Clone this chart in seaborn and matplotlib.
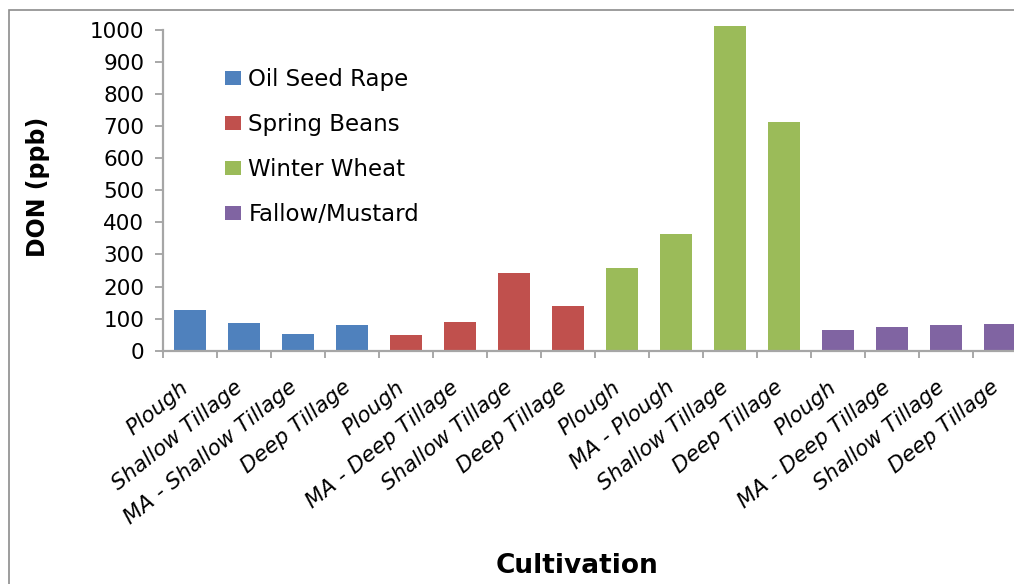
import matplotlib
matplotlib.use("Agg")
import matplotlib.pyplot as plt
import matplotlib.transforms as mtransforms
import seaborn as sns
import pandas as pd
from matplotlib.patches import Rectangle

# Cultivation treatments (left to right) and their crop groups
cultivation = [
    "Plough", "Shallow Tillage", "MA - Shallow Tillage", "Deep Tillage",
    "Plough", "MA - Deep Tillage", "Shallow Tillage", "Deep Tillage",
    "Plough", "MA - Plough", "Shallow Tillage", "Deep Tillage",
    "Plough", "MA - Deep Tillage", "Shallow Tillage", "Deep Tillage",
]
crop = (["Oil Seed Rape"] * 4 + ["Spring Beans"] * 4 +
        ["Winter Wheat"] * 4 + ["Fallow/Mustard"] * 4)
don_ppb = [127, 86, 52, 80,
           49, 89, 242, 139,
           258, 364, 1012, 713,
           64, 74, 80, 83]

crop_order = ["Oil Seed Rape", "Spring Beans", "Winter Wheat", "Fallow/Mustard"]
crop_colors = ["#4F81BD", "#C0504D", "#9BBB59", "#8064A2"]

df = pd.DataFrame({
    "slot": [str(i) for i in range(len(cultivation))],
    "Crop": crop,
    "DON": don_ppb,
})

sns.set_theme(style="white")
plt.rcParams["font.family"] = ["DejaVu Sans"]
plt.rcParams["text.color"] = "black"
plt.rcParams["axes.labelcolor"] = "black"

W, H = 1014, 584
fig = plt.figure(figsize=(W / 100, H / 100), dpi=100)
# axes run past the right edge of the canvas, like a cropped sheet chart
ax = fig.add_axes([163 / W, 1 - 350.7 / H, 864 / W, 320.9 / H])

sns.barplot(data=df, x="slot", y="DON", hue="Crop", hue_order=crop_order,
            palette=crop_colors, dodge=False, width=0.58, saturation=1,
            order=df["slot"].tolist(), ax=ax)

for p in ax.patches:
    p.set_clip_on(False)
    p.set_edgecolor("none")

ax.set_xlim(-0.5, len(cultivation) - 0.5)
ax.set_ylim(0, 1000)
ax.set_yticks(range(0, 1001, 100))
ax.tick_params(axis="y", labelsize=15.5, length=5.5, width=1.2, color="#9a9a9a",
               direction="out", left=True, pad=8, labelcolor="black")

# category labels on major ticks, tick marks on category boundaries
ax.set_xticks(range(len(cultivation)))
ax.set_xticklabels(cultivation, rotation=39, ha="right", va="top",
                   rotation_mode="anchor", fontsize=15.5, style="italic",
                   color="black")
ax.tick_params(axis="x", which="major", length=0, pad=19)
shift = mtransforms.ScaledTranslation(-10 / 100, 0, fig.dpi_scale_trans)
for lbl in ax.get_xticklabels():
    lbl.set_transform(lbl.get_transform() + shift)
ax.set_xticks([i - 0.5 for i in range(len(cultivation) + 1)], minor=True)
ax.tick_params(axis="x", which="minor", length=5, width=1.2, color="#9a9a9a",
               direction="out", bottom=True)

for side in ("top", "right"):
    ax.spines[side].set_visible(False)
for side in ("left", "bottom"):
    ax.spines[side].set_color("#a6a6a6")
    ax.spines[side].set_linewidth(1.6)

ax.set_xlabel("")
ax.set_ylabel("")
fig.text(38 / W, 1 - 187 / H, "DON (ppb)", rotation=90, fontsize=17,
         fontweight="bold", ha="center", va="center", color="black")
fig.text(577 / W, 1 - 566 / H, "Cultivation", fontsize=19, fontweight="bold",
         ha="center", va="center", color="black")

leg = ax.legend(loc="upper left", bbox_to_anchor=((225 - 163) / 864, (350.7 - 68) / 320.9),
                frameon=False, fontsize=16.5, handlelength=0.7, handleheight=0.55,
                handletextpad=0.32, labelspacing=0.96, borderpad=0, borderaxespad=0)
for t in leg.get_texts():
    t.set_color("black")

# outer chart-area border
fig.patches.append(Rectangle((9 / W, -0.01), 1.05, 1 - 10 / H + 0.01,
                             transform=fig.transFigure, fill=False,
                             edgecolor="#8c8c8c", linewidth=1.2))

fig.savefig("out.png", dpi=100)
